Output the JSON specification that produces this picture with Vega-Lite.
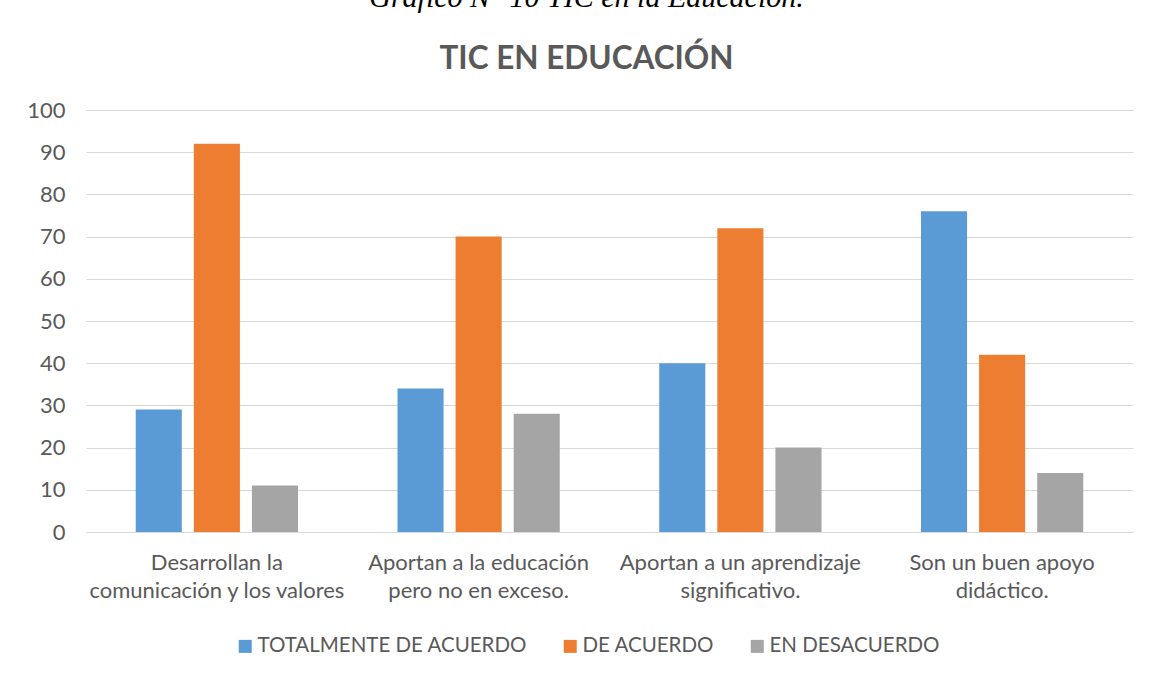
{
  "$schema": "https://vega.github.io/schema/vega-lite/v6.json",
  "autosize": "none",
  "width": 1047,
  "height": 422,
  "padding": {"left": 86, "top": 110, "right": 16, "bottom": 145},
  "background": "white",
  "config": {
    "font": "Lato",
    "view": {"stroke": null}
  },
  "title": {
    "text": "Gráfico N° 10 TIC en la Educación.",
    "subtitle": "TIC EN EDUCACIÓN",
    "anchor": "middle",
    "dx": -23,
    "font": "Liberation Serif",
    "fontStyle": "italic",
    "fontWeight": "normal",
    "fontSize": 30,
    "color": "#000000",
    "subtitleFont": "Lato",
    "subtitleFontSize": 31.5,
    "subtitleFontWeight": "bold",
    "subtitleColor": "#595959",
    "subtitlePadding": 31,
    "offset": 24
  },
  "data": {
    "values": [
      {"categoria": "Desarrollan la comunicación y los valores", "respuesta": "TOTALMENTE DE ACUERDO", "valor": 29},
      {"categoria": "Desarrollan la comunicación y los valores", "respuesta": "DE ACUERDO", "valor": 92},
      {"categoria": "Desarrollan la comunicación y los valores", "respuesta": "EN DESACUERDO", "valor": 11},
      {"categoria": "Aportan a la educación pero no en exceso.", "respuesta": "TOTALMENTE DE ACUERDO", "valor": 34},
      {"categoria": "Aportan a la educación pero no en exceso.", "respuesta": "DE ACUERDO", "valor": 70},
      {"categoria": "Aportan a la educación pero no en exceso.", "respuesta": "EN DESACUERDO", "valor": 28},
      {"categoria": "Aportan a un aprendizaje significativo.", "respuesta": "TOTALMENTE DE ACUERDO", "valor": 40},
      {"categoria": "Aportan a un aprendizaje significativo.", "respuesta": "DE ACUERDO", "valor": 72},
      {"categoria": "Aportan a un aprendizaje significativo.", "respuesta": "EN DESACUERDO", "valor": 20},
      {"categoria": "Son un buen apoyo didáctico.", "respuesta": "TOTALMENTE DE ACUERDO", "valor": 76},
      {"categoria": "Son un buen apoyo didáctico.", "respuesta": "DE ACUERDO", "valor": 42},
      {"categoria": "Son un buen apoyo didáctico.", "respuesta": "EN DESACUERDO", "valor": 14}
    ]
  },
  "mark": {"type": "bar"},
  "encoding": {
    "x": {
      "field": "categoria",
      "type": "nominal",
      "sort": null,
      "scale": {"paddingInner": 0.38, "paddingOuter": 0.19},
      "axis": {
        "title": null,
        "labelAngle": 0,
        "labelFontSize": 22,
        "labelColor": "#595959",
        "labelPadding": 20,
        "labelLineHeight": 28,
        "labelLimit": 0,
        "ticks": false,
        "domain": true,
        "domainColor": "#d9d9d9",
        "labelExpr": "datum.value == 'Desarrollan la comunicación y los valores' ? ['Desarrollan la', 'comunicación y los valores'] : datum.value == 'Aportan a la educación pero no en exceso.' ? ['Aportan a la educación', 'pero no en exceso.'] : datum.value == 'Aportan a un aprendizaje significativo.' ? ['Aportan a un aprendizaje', 'significativo.'] : ['Son un buen apoyo', 'didáctico.']"
      }
    },
    "xOffset": {
      "field": "respuesta",
      "type": "nominal",
      "sort": ["TOTALMENTE DE ACUERDO", "DE ACUERDO", "EN DESACUERDO"],
      "scale": {"paddingInner": 0.207, "paddingOuter": 0}
    },
    "y": {
      "field": "valor",
      "type": "quantitative",
      "scale": {"domain": [0, 100]},
      "axis": {
        "title": null,
        "values": [0, 10, 20, 30, 40, 50, 60, 70, 80, 90, 100],
        "labelFontSize": 22,
        "labelColor": "#595959",
        "labelPadding": 21,
        "ticks": false,
        "domain": false,
        "gridColor": "#d9d9d9",
        "gridWidth": 1
      }
    },
    "color": {
      "field": "respuesta",
      "type": "nominal",
      "sort": ["TOTALMENTE DE ACUERDO", "DE ACUERDO", "EN DESACUERDO"],
      "scale": {
        "domain": ["TOTALMENTE DE ACUERDO", "DE ACUERDO", "EN DESACUERDO"],
        "range": ["#5B9BD5", "#ED7D31", "#A5A5A5"]
      },
      "legend": {
        "title": null,
        "orient": "none",
        "direction": "horizontal",
        "legendX": 149,
        "legendY": 526,
        "symbolType": "square",
        "symbolSize": 169,
        "symbolStrokeWidth": 0,
        "labelFontSize": 20.5,
        "labelColor": "#595959",
        "labelOffset": 2,
        "columnPadding": 32,
        "labelLimit": 0
      }
    }
  }
}
